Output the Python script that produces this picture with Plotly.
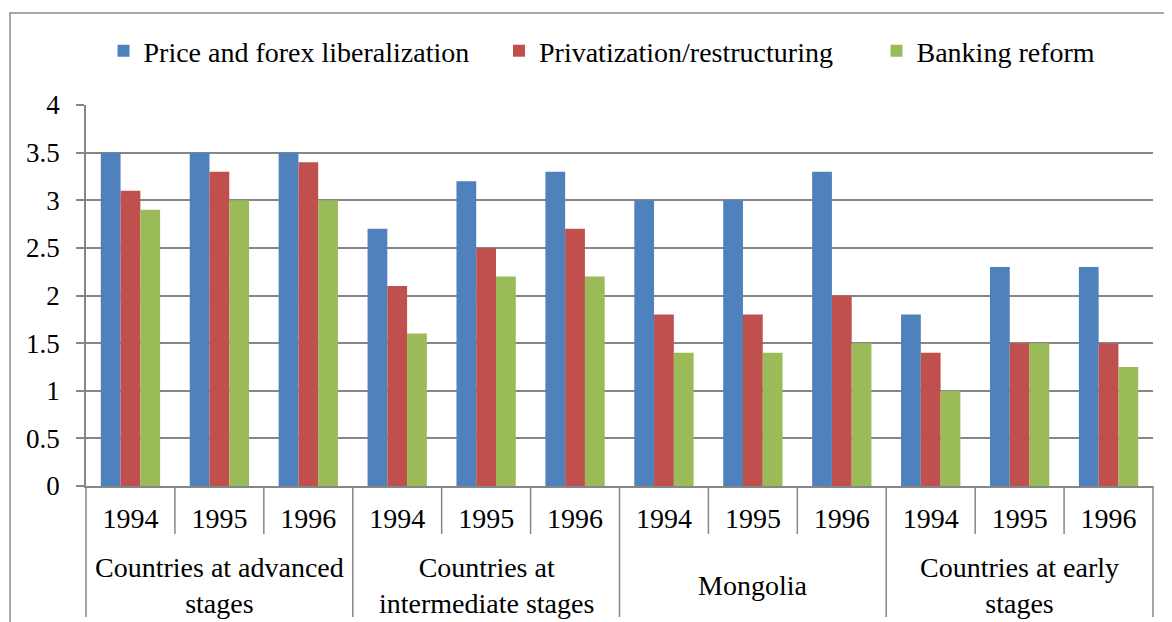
import plotly.graph_objects as go

groups = ["Countries at advanced<br>stages", "Countries at<br>intermediate stages", "Mongolia", "Countries at early<br>stages"]
years = ["1994", "1995", "1996"]
series_names = ["Price and forex liberalization", "Privatization/restructuring", "Banking reform"]
price_forex = [3.5, 3.5, 3.5, 2.7, 3.2, 3.3, 3.0, 3.0, 3.3, 1.8, 2.3, 2.3]
privatization = [3.1, 3.3, 3.4, 2.1, 2.5, 2.7, 1.8, 1.8, 2.0, 1.4, 1.5, 1.5]
banking = [2.9, 3.0, 3.0, 1.6, 2.2, 2.2, 1.4, 1.4, 1.5, 1.0, 1.5, 1.25]
colors = ["#4F81BD", "#C0504D", "#9BBB59"]

OFF = 8  # page body margin
W, H = 1172 - OFF, 622 - OFF
ML, MT = 86 - OFF, 105 - OFF
PW, PH = 1067, 381
MR = W - ML - PW
MB = H - MT - PH
FONT = "Liberation Serif"
GRID = "#868686"

n = len(groups) * len(years)
xs = list(range(n))
year_labels = [y for g in groups for y in years]


def page_y(py):
    return (MT + PH - (py - OFF)) / PH


def page_x(px):
    return (px - OFF - ML) / PW


fig = go.Figure()
legend_ids = ["legend", "legend2", "legend3"]
for name, vals, c, lg in zip(series_names, [price_forex, privatization, banking], colors, legend_ids):
    fig.add_trace(go.Bar(x=xs, y=vals, name=name, legend=lg, showlegend=True,
                         marker=dict(color=c, line=dict(width=0))))

shapes = []
for i in range(n + 1):
    xd = i / n
    is_group = (i % len(years) == 0)
    y1 = page_y(617) if is_group else page_y(534)
    shapes.append(dict(type="line", xref="x domain", yref="paper", x0=xd, x1=xd, y0=0, y1=y1,
                       line=dict(color=GRID, width=1.5)))
shapes.append(dict(type="rect", xref="paper", yref="paper",
                   x0=page_x(10), x1=page_x(1185), y0=page_y(640), y1=page_y(13),
                   line=dict(color="#8c8c8c", width=1.5), layer="below"))

annotations = []
for gi, g in enumerate(groups):
    center = gi * len(years) + (len(years) - 1) / 2
    annotations.append(dict(x=center, xref="x", y=page_y(585), yref="paper", text=g, showarrow=False,
                            yanchor="middle", xanchor="center",
                            font=dict(family=FONT, size=28, color="#000")))

sym_centers = [122.5, 518, 895.5]
legend_cfg = {}
for lg, sc in zip(legend_ids, sym_centers):
    legend_cfg[lg] = dict(orientation="h", x=page_x(sc - 19), xanchor="left",
                          y=page_y(51), yanchor="middle",
                          font=dict(family=FONT, size=28, color="#000"),
                          bgcolor="rgba(0,0,0,0)")

fig.update_layout(
    width=W, height=H,
    showlegend=True,
    margin=dict(l=ML, r=MR, t=MT, b=MB, autoexpand=False),
    paper_bgcolor="white", plot_bgcolor="white",
    barmode="group", bargap=0.333, bargroupgap=0,
    font=dict(family=FONT, size=28, color="#000"),
    shapes=shapes,
    annotations=annotations,
    xaxis=dict(range=[-0.5, n - 0.5], tickmode="array", tickvals=xs, ticktext=year_labels,
               showgrid=False, zeroline=False, showline=True, linecolor=GRID, linewidth=1.5,
               ticks="", ticklabelstandoff=7, tickfont=dict(family=FONT, size=28, color="#000")),
    yaxis=dict(range=[0, 4], dtick=0.5, showgrid=True, gridcolor=GRID, gridwidth=1.5,
               zeroline=False, showline=True, linecolor=GRID, linewidth=1.5,
               ticks="outside", ticklen=8, tickcolor=GRID, tickwidth=1.5, ticklabelstandoff=11,
               tickfont=dict(family=FONT, size=27, color="#000")),
    **legend_cfg,
)

fig.write_html("out.html")
